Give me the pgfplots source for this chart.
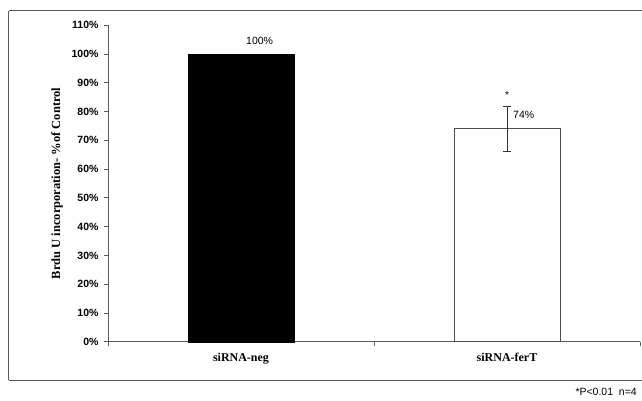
\documentclass[border=0pt]{standalone}
\usepackage{pgfplots}
\pgfplotsset{compat=1.18}
\usepackage{fontspec}
\setmainfont{Liberation Serif}
\setsansfont{Liberation Sans}
\begin{document}
\begin{tikzpicture}[x=1pt,y=1pt]
\useasboundingbox (-108,-58.3) rectangle (534,341.7);
\draw[gray!70!black, line width=1pt] (-99,330.7) -- (540,330.7);
\draw[gray!70!black, line width=1pt] (-99,-38.3) -- (540,-38.3);
\draw[gray!70!black, line width=1pt] (-99,330.7) -- (-99,-38.3);
\begin{axis}[
  at={(0,0)}, anchor=origin,
  scale only axis, width=532pt, height=316.4pt,
  xmin=0, xmax=2, ymin=0, ymax=110,
  axis lines=left,
  axis line style={-, gray!70!black, line width=0.8pt},
  ytick={0,10,...,110},
  yticklabel={\pgfmathprintnumber{\tick}\%},
  yticklabel style={font=\sffamily\bfseries\fontsize{10.5}{12}\selectfont, xshift=-2pt},
  /pgf/number format/assume math mode=true,
  tick style={gray!70!black, line width=0.8pt},
  tick align=outside, major tick length=4pt,
  xtick={0,1,2},
  x tick label as interval,
  xticklabels={siRNA-neg, siRNA-ferT},
  xticklabel style={font=\bfseries\fontsize{12}{13}\selectfont, yshift=-4pt},
  ylabel={Brdu U incorporation- \%of Control},
  ylabel style={font=\bfseries\fontsize{12.5}{14}\selectfont, yshift=2pt},
  ybar, bar width=106pt, bar shift=0pt,
  clip=false,
]
\addplot[fill=black, draw=black] coordinates {(0.5,100)};
\addplot[fill=white, draw=gray!60!black, line width=0.8pt,
  error bars/.cd, y dir=both, y explicit,
  error mark options={rotate=90, mark size=4pt, line width=0.8pt, draw=black!80},
  error bar style={line width=0.8pt, draw=black!80}]
  coordinates {(1.5,74) +- (0,7.8)};
\node[anchor=west, font=\sffamily\fontsize{10.5}{12}\selectfont, inner sep=0pt] at ([xshift=5pt,yshift=13pt]axis cs:0.5,100) {100\%};
\node[anchor=west, font=\sffamily\fontsize{10.5}{12}\selectfont, inner sep=0pt] at ([xshift=6pt,yshift=14pt]axis cs:1.5,74) {74\%};
\node[font=\sffamily\fontsize{10}{12}\selectfont, inner sep=0pt] at ([yshift=11pt]axis cs:1.5,81.8) {*};
\end{axis}
\node[anchor=east, font=\sffamily\fontsize{10.5}{12}\selectfont, inner sep=0pt] at (529,-50.3) {*P<0.01\ \ n=4};
\end{tikzpicture}
\end{document}
